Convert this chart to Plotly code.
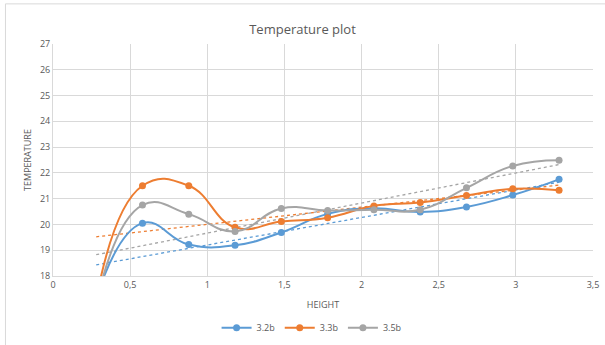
import numpy as np
import plotly.graph_objects as go

heights = [0.28, 0.58, 0.88, 1.18, 1.48, 1.78, 2.08, 2.38, 2.68, 2.98, 3.28]
temp_32b = [17.15, 20.05, 19.22, 19.19, 19.69, 20.41, 20.63, 20.48, 20.68, 21.14, 21.75]
temp_33b = [17.10, 21.50, 21.50, 19.89, 20.11, 20.26, 20.72, 20.85, 21.12, 21.38, 21.33]
temp_35b = [16.95, 20.75, 20.40, 19.73, 20.62, 20.54, 20.57, 20.57, 21.42, 22.27, 22.49]
series_names = ["3.2b", "3.3b", "3.5b"]
series_vals = [temp_32b, temp_33b, temp_35b]
colors = ["#5B9BD5", "#ED7D31", "#A5A5A5"]

x_ticks = [0, 0.5, 1, 1.5, 2, 2.5, 3, 3.5]
x_tick_labels = ["0", "0,5", "1", "1,5", "2", "2,5", "3", "3,5"]
y_ticks = list(range(18, 28))

FONT = "Open Sans, Noto Sans, sans-serif"
fig = go.Figure()

x = np.array(heights)
for name, vals, col in zip(series_names, series_vals, colors):
    y = np.array(vals)
    m, b = np.polyfit(x, y, 1)
    fig.add_trace(go.Scatter(
        x=[x[0], x[-1]], y=[m * x[0] + b, m * x[-1] + b], mode="lines",
        line=dict(color=col, width=1.3, dash="dot"), showlegend=False, hoverinfo="skip"))

for name, vals, col in zip(series_names, series_vals, colors):
    fig.add_trace(go.Scatter(
        x=heights, y=vals, name=name, mode="lines+markers",
        line=dict(color=col, width=2, shape="spline", smoothing=1.3),
        marker=dict(color=col, size=7)))

fig.add_shape(type="rect", xref="paper", yref="paper",
              x0=-0.088, x1=1.05, y0=-0.35, y1=1.173,
              line=dict(color="#D9D9D9", width=1), fillcolor="rgba(0,0,0,0)", layer="below")

fig.update_layout(
    width=605, height=345,
    margin=dict(l=53, r=12, t=44, b=69),
    paper_bgcolor="white", plot_bgcolor="white",
    font=dict(family=FONT, color="#595959", size=9),
    title=dict(text="Temperature plot", x=0.5, xanchor="center", y=0.915, yanchor="middle",
               font=dict(size=13, color="#595959", family=FONT)),
    showlegend=True,
    legend=dict(orientation="h", x=0.515, xanchor="center", xref="container",
                y=0.05, yanchor="middle", yref="container",
                font=dict(size=9, color="#595959")),
    xaxis=dict(range=[0, 3.5], tickvals=x_ticks, ticktext=x_tick_labels, automargin=False,
               showgrid=True, gridcolor="#D9D9D9", gridwidth=1,
               zeroline=False, showline=True, linecolor="#D9D9D9", mirror=False,
               ticks="", title=dict(text="HEIGHT", font=dict(size=9, color="#595959"), standoff=11)),
    yaxis=dict(range=[18, 27], tickvals=y_ticks, automargin=False,
               showgrid=True, gridcolor="#D9D9D9", gridwidth=1,
               zeroline=False, showline=True, linecolor="#D9D9D9",
               ticks="", title=dict(text="TEMPERATURE", font=dict(size=9, color="#595959"), standoff=6)),
)

fig.write_html("out.html", config={"displayModeBar": False},
               post_script="document.body.style.margin='0';")
